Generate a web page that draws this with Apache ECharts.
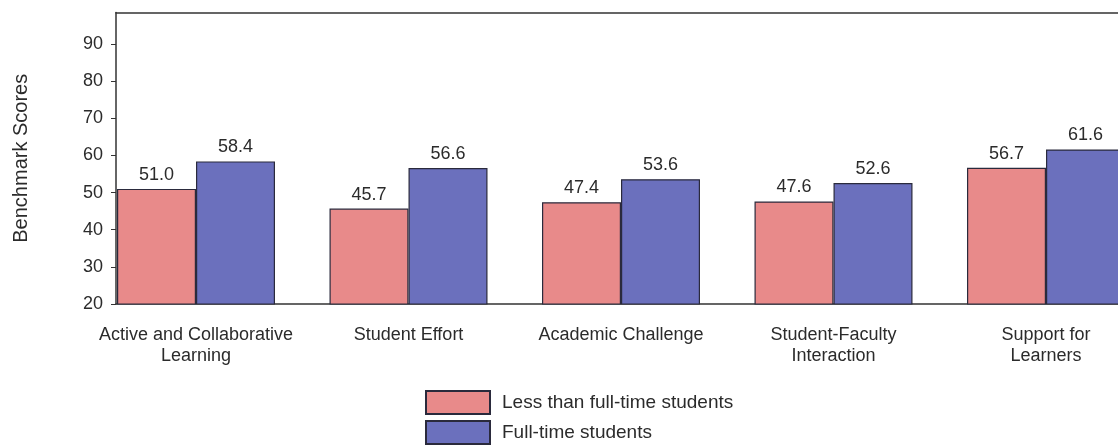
<!DOCTYPE html>
<html>
<head>
<meta charset="utf-8">
<title>Benchmark Scores by Enrollment Status</title>
<script src="https://cdn.jsdelivr.net/npm/echarts@6/dist/echarts.min.js"></script>
<style>
  html, body { margin: 0; padding: 0; background: #ffffff; }
  #chart { width: 1118px; height: 445px; }
</style>
</head>
<body>
<div id="chart"></div>
<script>
// Benchmark categories along the x axis
const categories = [
  'Active and Collaborative\nLearning',
  'Student Effort',
  'Academic Challenge',
  'Student-Faculty\nInteraction',
  'Support for\nLearners'
];

// Series names and values
const seriesNames = ['Less than full-time students', 'Full-time students'];
const lessThanFullTime = [51.0, 45.7, 47.4, 47.6, 56.7];
const fullTime = [58.4, 56.6, 53.6, 52.6, 61.6];

// Value axis ticks
const yTicks = [20, 30, 40, 50, 60, 70, 80, 90];
const yMin = 20;
const yMax = 98.5;

const fontFamily = '"Liberation Sans", Arial, Helvetica, sans-serif';
const textColor = '#2b2b2b';
const barBorder = '#2a2a3c';

const chart = echarts.init(document.getElementById('chart'), null, { renderer: 'canvas' });

const plotTop = 12.5;
const plotBottom = 141;

const labelStyle = {
  show: true,
  position: 'top',
  distance: 5,
  fontFamily: fontFamily,
  fontSize: 18,
  color: textColor,
  formatter: p => p.value.toFixed(1)
};

chart.setOption({
  animation: false,
  backgroundColor: '#ffffff',
  textStyle: { fontFamily: fontFamily },
  grid: [
    // bars: the last group runs past the right edge
    { left: 89.75, width: 1062.5, top: plotTop, bottom: plotBottom, containLabel: false, outerBoundsMode: 'none' },
    // frame and value axis
    { left: 116, right: -10, top: plotTop, bottom: plotBottom, containLabel: false, outerBoundsMode: 'none' }
  ],
  legend: {
    data: seriesNames,
    orient: 'vertical',
    left: 425,
    top: 390,
    padding: 0,
    itemWidth: 64,
    itemHeight: 23,
    itemGap: 5,
    icon: 'rect',
    textStyle: { fontFamily: fontFamily, fontSize: 19, color: textColor, padding: [8, 0, 0, 7] }
  },
  xAxis: [
    {
      type: 'category',
      gridIndex: 0,
      data: categories,
      axisLine: { show: false },
      axisTick: { show: false },
      axisLabel: {
        fontFamily: fontFamily,
        fontSize: 18,
        lineHeight: 21,
        color: textColor,
        margin: 21,
        interval: 0
      }
    },
    {
      type: 'value',
      gridIndex: 1,
      position: 'bottom',
      min: 0, max: 1,
      axisLine: { show: true, lineStyle: { color: '#333', width: 1.5 } },
      axisTick: { show: false },
      axisLabel: { show: false },
      splitLine: { show: false }
    },
    {
      type: 'value',
      gridIndex: 1,
      position: 'top',
      min: 0, max: 1,
      axisLine: { show: true, lineStyle: { color: '#333', width: 1.5 } },
      axisTick: { show: false },
      axisLabel: { show: false },
      splitLine: { show: false }
    }
  ],
  yAxis: [
    {
      type: 'value',
      gridIndex: 0,
      min: yMin, max: yMax,
      show: false
    },
    {
      type: 'value',
      gridIndex: 1,
      min: yMin, max: yMax,
      name: 'Benchmark Scores',
      nameLocation: 'middle',
      nameGap: 85,
      nameRotate: 90,
      nameTextStyle: { fontFamily: fontFamily, fontSize: 20, color: textColor },
      axisLine: { show: true, lineStyle: { color: '#333', width: 1.5 } },
      axisTick: {
        show: true, length: 5, inside: false,
        customValues: yTicks,
        lineStyle: { color: '#333', width: 1 }
      },
      axisLabel: {
        customValues: yTicks,
        fontFamily: fontFamily,
        fontSize: 18,
        color: textColor,
        margin: 13
      },
      splitLine: { show: false }
    }
  ],
  series: [
    {
      name: seriesNames[0],
      type: 'bar',
      xAxisIndex: 0,
      yAxisIndex: 0,
      data: lessThanFullTime,
      barWidth: 79,
      barGap: '0%',
      itemStyle: { color: '#e88a8a', borderColor: barBorder, borderWidth: 1.2 },
      label: labelStyle
    },
    {
      name: seriesNames[1],
      type: 'bar',
      xAxisIndex: 0,
      yAxisIndex: 0,
      data: fullTime,
      barWidth: 79,
      barGap: '0%',
      itemStyle: { color: '#6b70bd', borderColor: barBorder, borderWidth: 1.2 },
      label: labelStyle
    }
  ]
});
</script>
</body>
</html>
